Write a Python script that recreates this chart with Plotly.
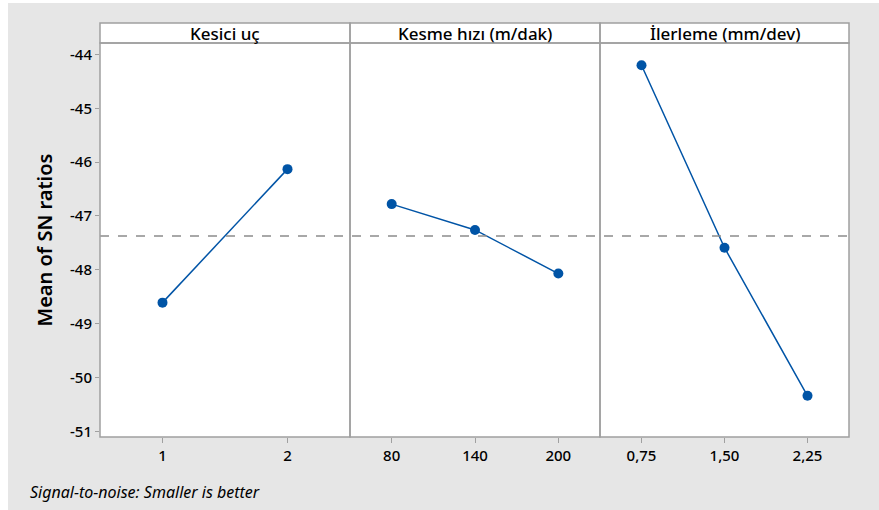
import plotly.graph_objects as go

# Main effects for SN ratios (smaller is better)
factor_names = ["Kesici uç", "Kesme hızı (m/dak)", "İlerleme (mm/dev)"]
kesici_levels = ["1", "2"]
kesici_sn = [-48.61, -46.13]
hiz_levels = ["80", "140", "200"]
hiz_sn = [-46.78, -47.26, -48.07]
ilerleme_levels = ["0,75", "1,50", "2,25"]
ilerleme_sn = [-44.20, -47.59, -50.34]
y_ticks = [-51, -50, -49, -48, -47, -46, -45, -44]

levels = [kesici_levels, hiz_levels, ilerleme_levels]
values = [kesici_sn, hiz_sn, ilerleme_sn]
all_vals = kesici_sn + hiz_sn + ilerleme_sn
grand_mean = sum(all_vals) / len(all_vals)

W, H = 879, 510
L, R, T, B = 100, 30, 43, 73
plot_w = W - L - R
plot_h = H - T - B
header_h = 20 / plot_h

LINE_BLUE = "#0054A6"
BORDER = "#A0A0A0"
TXT = "#000000"
FONT = "Noto Sans"

# Three equal-width panels
edges = [0, 250 / plot_w, 500 / plot_w, 1.0]

fig = go.Figure()
for i in range(3):
    ax = "" if i == 0 else str(i + 1)
    fig.add_trace(go.Scatter(
        x=levels[i], y=values[i], mode="lines+markers",
        line=dict(color=LINE_BLUE, width=1.5),
        marker=dict(color=LINE_BLUE, size=10),
        xaxis="x" + ax, yaxis="y", showlegend=False, hoverinfo="x+y",
    ))
    fig.update_layout(**{
        "xaxis" + ax: dict(
            domain=[edges[i], edges[i + 1]],
            type="category",
            range=[-0.5, len(levels[i]) - 0.5],
            showgrid=False, zeroline=False, showline=False,
            ticks="outside", ticklen=5, tickwidth=1, tickcolor=BORDER,
            tickfont=dict(family=FONT, size=15, color=TXT, weight=500),
            anchor="y", fixedrange=True,
        )
    })

fig.update_layout(
    width=W, height=H,
    margin=dict(l=L, r=R, t=T, b=B),
    paper_bgcolor="white",
    plot_bgcolor="white",
    yaxis=dict(
        domain=[0, 1],
        range=[-51.106, -43.787],
        tickvals=y_ticks,
        ticktext=[str(v) for v in y_ticks],
        showgrid=False, zeroline=False, showline=False,
        ticks="outside", ticklen=4, tickwidth=1, tickcolor=BORDER,
        tickfont=dict(family=FONT, size=15, color=TXT, weight=500),
        title=dict(text="Mean of SN ratios", standoff=12,
                   font=dict(family=FONT, size=20, color=TXT, weight=600)),
    ),
)

shapes = []
# Gray page backdrop
shapes.append(dict(type="rect", xref="paper", yref="paper", layer="below",
                   x0=(8 - L) / plot_w, x1=(W - L) / plot_w + 0.01,
                   y0=-(B + 2) / plot_h, y1=1 + (T - 3) / plot_h,
                   fillcolor="#E6E6E6", line=dict(width=0)))
# Plot area and headers
shapes.append(dict(type="rect", xref="paper", yref="paper", layer="below",
                   x0=0, x1=1, y0=0, y1=1 + header_h,
                   fillcolor="white", line=dict(width=0)))
# Grand mean reference line
shapes.append(dict(type="line", xref="paper", yref="y", x0=0, x1=1,
                   y0=grand_mean, y1=grand_mean,
                   line=dict(color="#8C8C8C", width=1.5, dash="dash")))
# Panel borders
for i in range(3):
    shapes.append(dict(type="rect", xref="paper", yref="paper",
                       x0=edges[i], x1=edges[i + 1], y0=0, y1=1,
                       line=dict(color=BORDER, width=1.5)))
    shapes.append(dict(type="rect", xref="paper", yref="paper",
                       x0=edges[i], x1=edges[i + 1], y0=1, y1=1 + header_h,
                       line=dict(color=BORDER, width=1.5)))
fig.update_layout(shapes=shapes)

annotations = []
for i, name in enumerate(factor_names):
    annotations.append(dict(
        text=name, xref="paper", yref="paper",
        x=(edges[i] + edges[i + 1]) / 2, y=1 + header_h / 2,
        xanchor="center", yanchor="middle", showarrow=False,
        font=dict(family=FONT, size=17, color=TXT, weight=500),
    ))
annotations.append(dict(
    text="<i>Signal-to-noise: Smaller is better</i>",
    xref="paper", yref="paper",
    x=(28 - L) / plot_w, y=-(492 - T - plot_h) / plot_h,
    xanchor="left", yanchor="middle", showarrow=False,
    font=dict(family=FONT, size=16, color=TXT),
))
fig.update_layout(annotations=annotations)

fig.write_html("out.html")
